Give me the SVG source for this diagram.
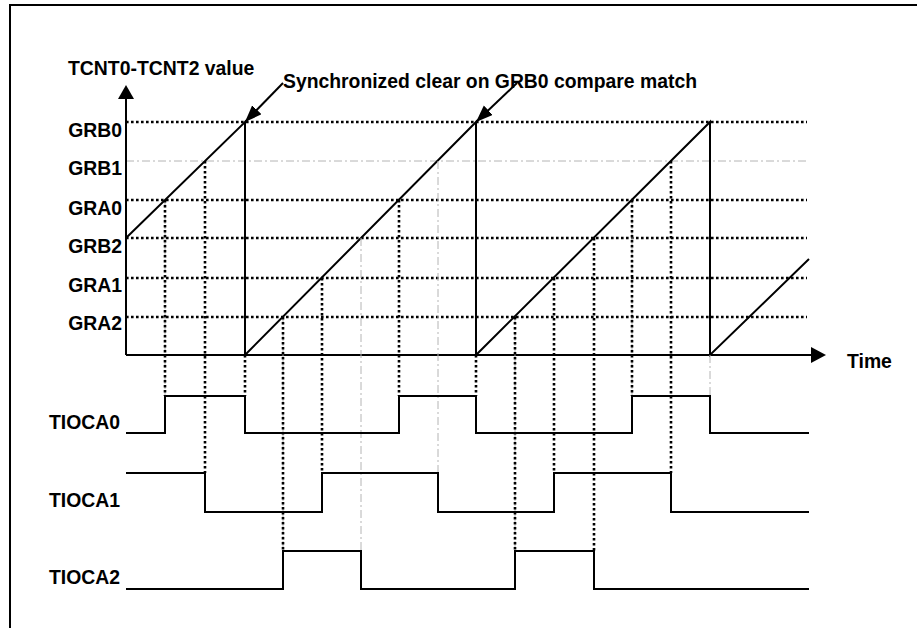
<svg xmlns="http://www.w3.org/2000/svg" width="917" height="628" viewBox="0 0 917 628">
<defs>
<style>
.t{font-family:"Liberation Sans",Arial,sans-serif;font-weight:bold;font-size:19.4px;fill:#000}
.ax{stroke:#000;stroke-width:2;fill:none}
.dot{stroke:#000;stroke-width:2.6;stroke-dasharray:2.6 2.4;fill:none}
.gdd{stroke:#b4b4b4;stroke-width:1;stroke-dasharray:8 3 2 3;fill:none}
.wave{stroke:#000;stroke-width:2;fill:none;stroke-linejoin:miter}
</style>
<marker id="ah" markerUnits="userSpaceOnUse" markerWidth="18" markerHeight="14" refX="17" refY="6.5" orient="auto">
<path d="M0,0 L17,6.5 L0,13 z" fill="#000"/>
</marker>
</defs>
<rect width="917" height="628" fill="#fff"/>
<g id="frame">
<path class="ax" d="M10,628 V5 H917"/>
</g>
<g id="grid">
<line class="dot" x1="126" y1="122" x2="807" y2="122"/>
<line class="gdd" x1="126" y1="161" x2="807" y2="161"/>
<line class="dot" x1="126" y1="200" x2="807" y2="200"/>
<line class="dot" x1="126" y1="238" x2="807" y2="238"/>
<line class="dot" x1="126" y1="278" x2="807" y2="278"/>
<line class="dot" x1="126" y1="317" x2="807" y2="317"/>
</g>
<g id="axes">
<line class="ax" x1="126" y1="355" x2="126" y2="98"/>
<polygon points="126,85 118,99 134,99" fill="#000"/>
<line class="ax" x1="126" y1="355" x2="812" y2="355"/>
<polygon points="826,355 811,347 811,363" fill="#000"/>
</g>
<g id="counter">
<polyline class="wave" points="126,238 245,122 245,355 476,122 476,355 710,122 710,355 809,259"/>
</g>
<g id="connectors">
<line class="gdd" x1="165" y1="200" x2="165" y2="396"/>
<line class="dot" x1="165" y1="200" x2="165" y2="396"/>
<line class="dot" x1="205" y1="161" x2="205" y2="473"/>
<line class="dot" x1="245" y1="355" x2="245" y2="396"/>
<line class="gdd" x1="283" y1="317" x2="283" y2="551"/>
<line class="dot" x1="283" y1="317" x2="283" y2="551"/>
<line class="dot" x1="322" y1="278" x2="322" y2="473"/>
<line class="gdd" x1="361" y1="238" x2="361" y2="551"/>
<line class="dot" x1="399" y1="200" x2="399" y2="396"/>
<line class="gdd" x1="438" y1="161" x2="438" y2="473"/>
<line class="dot" x1="476" y1="355" x2="476" y2="396"/>
<line class="gdd" x1="515" y1="317" x2="515" y2="551"/>
<line class="dot" x1="515" y1="317" x2="515" y2="551"/>
<line class="dot" x1="554" y1="278" x2="554" y2="473"/>
<line class="dot" x1="594" y1="238" x2="594" y2="551"/>
<line class="gdd" x1="632" y1="200" x2="632" y2="396"/>
<line class="dot" x1="632" y1="200" x2="632" y2="396"/>
<line class="dot" x1="671" y1="161" x2="671" y2="473"/>
<line class="gdd" x1="710" y1="355" x2="710" y2="396"/>
<line stroke="#000" stroke-width="2" x1="283" y1="83" x2="245" y2="122" marker-end="url(#ah)"/>
<line stroke="#000" stroke-width="2" x1="517" y1="83" x2="476" y2="122" marker-end="url(#ah)"/>
</g>
<g id="waves">
<polyline class="wave" id="tioca0" points="126,433 165,433 165,396 245,396 245,433 399,433 399,396 476,396 476,433 632,433 632,396 710,396 710,433 809,433"/>
<polyline class="wave" id="tioca1" points="126,473 205,473 205,512 322,512 322,473 438,473 438,512 554,512 554,473 671,473 671,512 809,512"/>
<polyline class="wave" id="tioca2" points="126,589 283,589 283,551 361,551 361,589 515,589 515,551 594,551 594,589 809,589"/>
</g>
<g id="labels">
<text class="t" x="68" y="75">TCNT0-TCNT2 value</text>
<text class="t" x="283" y="88" textLength="414" lengthAdjust="spacingAndGlyphs">Synchronized clear on GRB0 compare match</text>
<text class="t" x="122" y="136.5" text-anchor="end">GRB0</text>
<text class="t" x="122" y="174.5" text-anchor="end">GRB1</text>
<text class="t" x="122" y="215" text-anchor="end">GRA0</text>
<text class="t" x="122" y="253" text-anchor="end">GRB2</text>
<text class="t" x="122" y="292" text-anchor="end">GRA1</text>
<text class="t" x="122" y="330" text-anchor="end">GRA2</text>
<text class="t" x="847" y="368">Time</text>
<text class="t" x="49" y="429">TIOCA0</text>
<text class="t" x="49" y="506.5">TIOCA1</text>
<text class="t" x="49" y="584">TIOCA2</text>
</g>
</svg>
